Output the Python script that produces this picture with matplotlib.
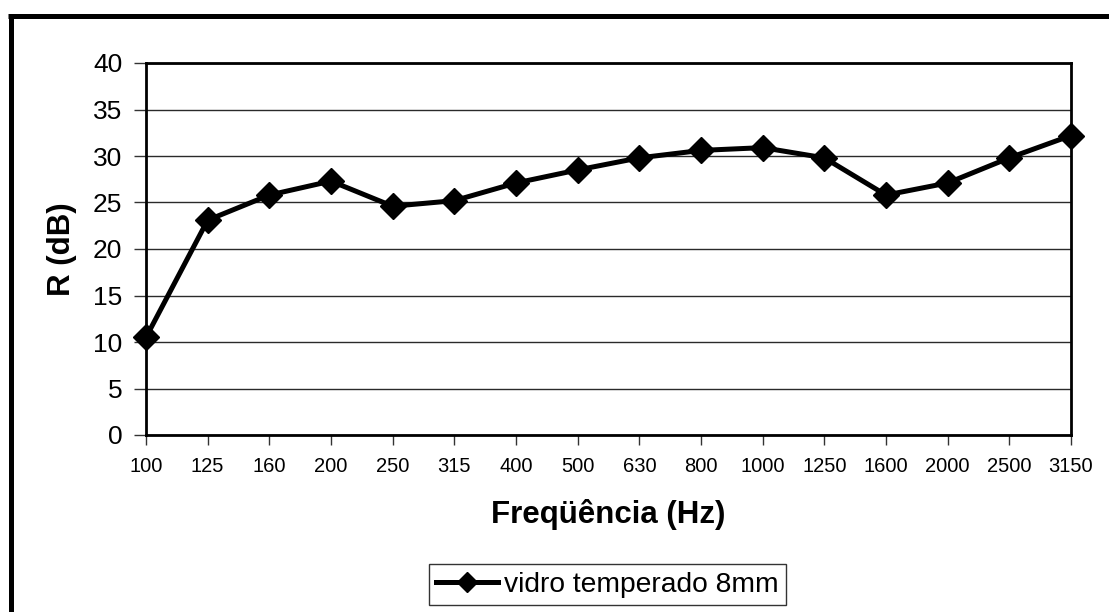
import matplotlib
matplotlib.use("Agg")
import matplotlib.pyplot as plt
from matplotlib.lines import Line2D

# Sound reduction index of 8 mm tempered glass per third-octave band
frequencies = ["100", "125", "160", "200", "250", "315", "400", "500",
               "630", "800", "1000", "1250", "1600", "2000", "2500", "3150"]
r_db = [10.5, 23.1, 25.8, 27.3, 24.6, 25.2, 27.1, 28.5,
        29.8, 30.6, 30.9, 29.8, 25.8, 27.1, 29.8, 32.2]
series_name = "vidro temperado 8mm"
y_ticks = [0, 5, 10, 15, 20, 25, 30, 35, 40]

plt.rcParams["font.family"] = ["Liberation Sans", "DejaVu Sans"]

W, H = 1109, 612
fig = plt.figure(figsize=(W / 100, H / 100), dpi=100)
fig.patch.set_facecolor("white")

# plot area in pixel terms
left, right, top, bottom = 146, 1071, 63, 435
ax = fig.add_axes([left / W, 1 - bottom / H, (right - left) / W, (bottom - top) / H])

x = list(range(len(frequencies)))
ax.plot(x, r_db, color="black", lw=3.6, marker="D", ms=13, mfc="black",
        mec="black", mew=1, label=series_name, zorder=3, clip_on=False)

ax.set_xlim(0, len(frequencies) - 1)
ax.set_ylim(y_ticks[0], y_ticks[-1])
ax.set_xticks(x)
ax.set_xticklabels(frequencies, fontsize=14.5)
ax.set_yticks(y_ticks)
ax.set_yticklabels([str(v) for v in y_ticks], fontsize=19)

ax.yaxis.grid(True, color="#2a2a2a", lw=1.0)
ax.set_axisbelow(True)
for side in ["left", "right", "top", "bottom"]:
    ax.spines[side].set_color("black")
    ax.spines[side].set_linewidth(2)
    ax.spines[side].set_zorder(4)

ax.tick_params(axis="x", direction="out", length=7, width=1, color="#333333", pad=9)
ax.tick_params(axis="y", direction="out", length=9, width=1, color="#333333", pad=8)

# axis titles
ax.set_xlabel("Freqüência (Hz)", fontsize=22.5, fontweight="bold")
ax.xaxis.label.set_verticalalignment("baseline")
ax.xaxis.set_label_coords(0.5, -(523 - bottom) / (bottom - top))
ax.set_ylabel("R (dB)", fontsize=22.5, fontweight="bold")
ax.yaxis.label.set_verticalalignment("center")
ax.yaxis.set_label_coords(-(left - 62) / (right - left), 0.5)

# legend box below the axis title
leg = fig.legend(loc="center", bbox_to_anchor=(607.5 / W, 1 - 584.5 / H),
                 fontsize=20.3, frameon=True, fancybox=False, shadow=False,
                 handlelength=2.2, handletextpad=0.2, borderpad=0.25,
                 markerscale=0.77, borderaxespad=0)
leg.get_frame().set_edgecolor("black")
leg.get_frame().set_linewidth(1)

# thick chart-area frame (top and left edges visible)
frame_lw = 5 * 72 / 100
fig.add_artist(Line2D([10.5 / W, 10.5 / W], [1 - 14 / H, 0], color="black",
                      lw=frame_lw, transform=fig.transFigure, solid_capstyle="butt"))
fig.add_artist(Line2D([8 / W, 1], [1 - 16 / H, 1 - 16 / H], color="black",
                      lw=frame_lw, transform=fig.transFigure, solid_capstyle="butt"))

fig.savefig("out.png", dpi=100, facecolor="white")
